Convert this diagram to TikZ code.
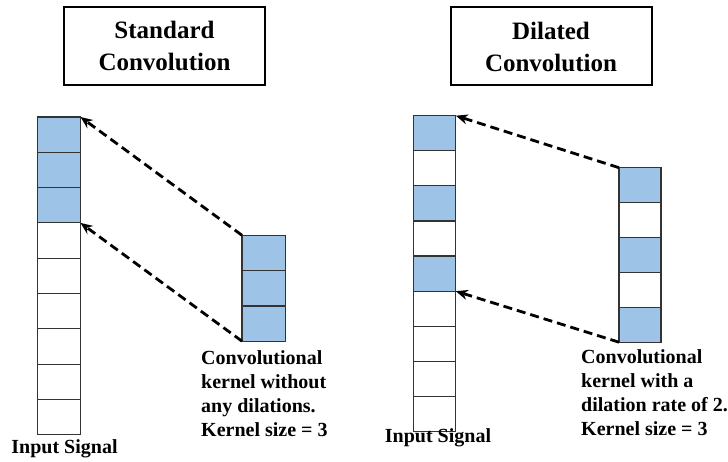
\documentclass[tikz,border=0pt]{standalone}
\usepackage{fontspec}
\setmainfont{Liberation Serif}
\usetikzlibrary{arrows.meta}
\definecolor{cellblue}{HTML}{9DC3E6}
\begin{document}
\begin{tikzpicture}[x=1pt,y=-1pt,
 cell/.style={draw=black!80, line width=1.2pt, minimum width=43pt, minimum height=35.3pt, inner sep=0pt, outer sep=0pt, anchor=north west},
 hot/.style={cell, fill=cellblue},
 rcell/.style={cell, minimum width=42.3pt, minimum height=35.1pt},
 rhot/.style={rcell, fill=cellblue},
 kcell/.style={cell, minimum width=42pt, minimum height=34.9pt},
 khot/.style={kcell, fill=cellblue},
 titlebox/.style={draw, line width=2pt, minimum width=201pt, minimum height=78pt, align=center, font=\bfseries\fontsize{25}{32}\selectfont},
 captiontext/.style={align=left, font=\bfseries\fontsize{20}{24}\selectfont, inner sep=0pt, anchor=base west},
 labeltext/.style={font=\bfseries\fontsize{20}{24}\selectfont, inner sep=0pt},
 link/.style={dash pattern=on 9pt off 5pt, line width=2.8pt, -{Stealth[length=12pt,width=10pt]}}
]
\useasboundingbox (0,0) rectangle (728,462);

% titles
\node[titlebox] (t1) at (164.5,46) {Standard\\Convolution};
\node[titlebox] (t2) at (551,46.5) {Dilated\\Convolution};

% left input column
\foreach \i/\s in {1/hot,2/hot,3/hot,4/cell,5/cell,6/cell,7/cell,8/cell,9/cell}
  \node[\s] (L\i) at (37.5,{117+(\i-1)*35.3}) {};
% left kernel
\foreach \i in {1,2,3}
  \node[khot, minimum width=43.3pt, minimum height=35.3pt] (K\i) at (242,{235.3+(\i-1)*35.3}) {};

% right input column
\foreach \i/\s in {1/rhot,2/rcell,3/rhot,4/rcell,5/rhot,6/rcell,7/rcell,8/rcell,9/rcell}
  \node[\s] (R\i) at (413.5,{115.7+(\i-1)*35.1}) {};
% right kernel
\foreach \i/\s in {1/khot,2/kcell,3/khot,4/kcell,5/khot}
  \node[\s] (Q\i) at (619,{167.7+(\i-1)*34.9}) {};

% connectors
\draw[link] (K1.north west) -- (L1.north east);
\draw[link] (K3.south west) -- (L3.south east);
\draw[link] (Q1.north west) -- (R1.north east);
\draw[link] (Q5.south west) -- (R5.south east);

% captions (base anchor = baseline of last line)
\node[captiontext] (c1) at (201,436) {Convolutional\\kernel without\\any dilations.\\Kernel size = 3};
\node[captiontext] (c2) at (581,435) {Convolutional\\kernel with a\\dilation rate of 2.\\Kernel size = 3};

\node[labeltext] (in1) at (64.5,449) {Input Signal};
\node[labeltext] (in2) at (438,438) {Input Signal};
\end{tikzpicture}
\end{document}
